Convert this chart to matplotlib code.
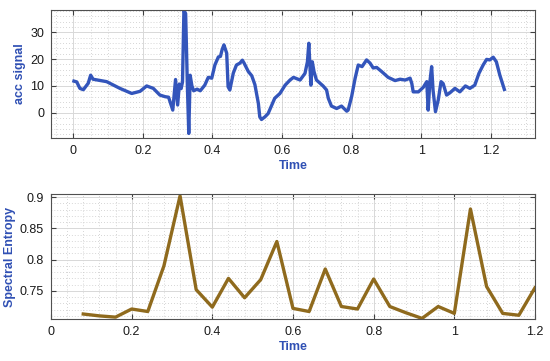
import matplotlib
matplotlib.use("Agg")
import matplotlib.pyplot as plt
from matplotlib.ticker import AutoMinorLocator, FuncFormatter
import numpy as np

plt.rcParams["font.family"] = ["Liberation Sans", "DejaVu Sans"]

# -----------------------------------------------------------
# data
# -----------------------------------------------------------
t_acc = [0.002, 0.01, 0.019, 0.029, 0.043, 0.05, 0.057, 0.096, 0.134, 0.168,
         0.192, 0.211, 0.23, 0.249, 0.264, 0.274, 0.286, 0.294, 0.3, 0.305,
         0.31, 0.314, 0.318, 0.323, 0.328, 0.332, 0.336, 0.341, 0.346, 0.356,
         0.365, 0.378, 0.388, 0.398, 0.407, 0.417, 0.423, 0.428, 0.433, 0.441,
         0.445, 0.45, 0.46, 0.469, 0.479, 0.486, 0.491, 0.503, 0.513, 0.522,
         0.532, 0.536, 0.541, 0.551, 0.56, 0.579, 0.594, 0.609, 0.623, 0.633,
         0.652, 0.666, 0.673, 0.677, 0.683, 0.687, 0.692, 0.699, 0.718, 0.728,
         0.733, 0.742, 0.757, 0.771, 0.786, 0.79, 0.8, 0.81, 0.819, 0.83,
         0.843, 0.853, 0.862, 0.872, 0.886, 0.905, 0.925, 0.939, 0.954, 0.968,
         0.973, 0.977, 0.992, 1.006, 1.016, 1.02, 1.025, 1.03, 1.034, 1.041,
         1.049, 1.057, 1.063, 1.073, 1.083, 1.097, 1.111, 1.127, 1.14, 1.154,
         1.166, 1.178, 1.188, 1.197, 1.207, 1.216, 1.226, 1.239]
acc = [11.8, 11.5, 9.1, 8.6, 11.0, 14.0, 12.5, 11.6, 9.1, 7.2,
       8.0, 10.0, 9.1, 6.6, 6.0, 5.8, 1.0, 12.4, 2.9, 10.7,
       9.0, 11.5, 38.0, 37.0, 10.0, -7.7, 14.0, 10.0, 8.2, 8.8,
       8.2, 10.3, 13.2, 12.9, 17.8, 20.8, 21.0, 23.6, 25.3, 22.2,
       9.7, 8.5, 14.8, 17.8, 18.5, 19.6, 18.5, 15.4, 13.8, 10.5,
       3.5, -1.5, -2.5, -1.5, -0.3, 5.4, 7.2, 10.3, 12.2, 13.2,
       12.2, 14.7, 19.0, 25.9, 10.3, 19.0, 15.3, 12.2, 10.0, 8.5,
       5.4, 2.5, 1.6, 2.5, 0.6, 1.0, 6.0, 12.8, 17.8, 17.2,
       19.7, 18.5, 16.7, 16.9, 15.4, 13.2, 12.0, 12.5, 12.2, 12.9,
       10.9, 7.8, 7.8, 9.5, 11.6, 1.0, 11.6, 17.2, 8.5, 0.4,
       4.8, 11.6, 10.9, 6.6, 7.5, 9.1, 7.8, 10.0, 9.1, 10.3,
       14.7, 17.8, 19.9, 19.7, 20.7, 19.0, 14.0, 8.7]

t_ent = [0.08, 0.12, 0.16, 0.20, 0.24, 0.28, 0.32, 0.36, 0.40, 0.44,
         0.48, 0.52, 0.56, 0.60, 0.64, 0.68, 0.72, 0.76, 0.80, 0.84,
         0.88, 0.92, 0.96, 1.00, 1.04, 1.08, 1.12, 1.16, 1.20]
entropy = [0.713, 0.710, 0.708, 0.721, 0.717, 0.790, 0.902, 0.752, 0.724, 0.770,
           0.739, 0.768, 0.829, 0.722, 0.717, 0.785, 0.725, 0.721, 0.769, 0.725,
           0.715, 0.706, 0.725, 0.714, 0.881, 0.757, 0.714, 0.711, 0.755]

acc_ticks_x = [0, 0.2, 0.4, 0.6, 0.8, 1.0, 1.2]
acc_ticks_y = [0, 10, 20, 30]
ent_ticks_x = [0, 0.2, 0.4, 0.6, 0.8, 1.0, 1.2]
ent_ticks_y = [0.75, 0.8, 0.85, 0.9]

label_col = '#3050b4'
acc_col = '#3355bb'
ent_col = '#8f6a1d'

# -----------------------------------------------------------
# figure
# -----------------------------------------------------------
fig = plt.figure(figsize=(5.5, 3.61), dpi=100)
ax1 = fig.add_axes([0.0927, 0.6177, 0.88, 0.3546])
ax2 = fig.add_axes([0.0927, 0.1163, 0.88, 0.3463])

fmt = FuncFormatter(lambda v, p: f"{v:g}")

def style_axes(ax, nx, ny):
    ax.xaxis.set_minor_locator(AutoMinorLocator(nx))
    ax.yaxis.set_minor_locator(AutoMinorLocator(ny))
    ax.grid(True, which='major', color='#d8d8d8', linewidth=0.7, linestyle='-')
    ax.grid(True, which='minor', color='#c8c8c8', linewidth=0.6,
            linestyle=(0, (1, 2.5)))
    ax.set_axisbelow(True)
    ax.tick_params(which='major', direction='in', top=True, right=True,
                   length=3.5, width=0.8, colors='#404040',
                   labelcolor='#1a1a1a', labelsize=9, pad=5)
    ax.tick_params(which='minor', length=0)
    for sp in ax.spines.values():
        sp.set_color('#505050')
        sp.set_linewidth(0.8)
    ax.xaxis.set_major_formatter(fmt)
    ax.yaxis.set_major_formatter(fmt)

ax1.plot(t_acc, acc, color=acc_col, linewidth=2.4, solid_joinstyle='round')
ax1.set_xlim(-0.064, 1.327)
ax1.set_ylim(-9.4, 38.3)
ax1.set_xticks(acc_ticks_x)
ax1.set_yticks(acc_ticks_y)
style_axes(ax1, 4, 5)
ax1.set_xlabel('Time', color=label_col, fontweight='bold', fontsize=9, labelpad=2)
ax1.set_ylabel('acc signal', color=label_col, fontweight='bold', fontsize=9,
               labelpad=3)

ax2.plot(t_ent, entropy, color=ent_col, linewidth=2.4, solid_joinstyle='round')
ax2.set_xlim(0, 1.2)
ax2.set_ylim(0.705, 0.905)
ax2.set_xticks(ent_ticks_x)
ax2.set_yticks(ent_ticks_y)
style_axes(ax2, 5, 5)
ax2.set_xlabel('Time', color=label_col, fontweight='bold', fontsize=9, labelpad=2)
ax2.set_ylabel('Spectral Entropy', color=label_col, fontweight='bold',
               fontsize=9, labelpad=3)

fig.savefig('out.png', dpi=100)
